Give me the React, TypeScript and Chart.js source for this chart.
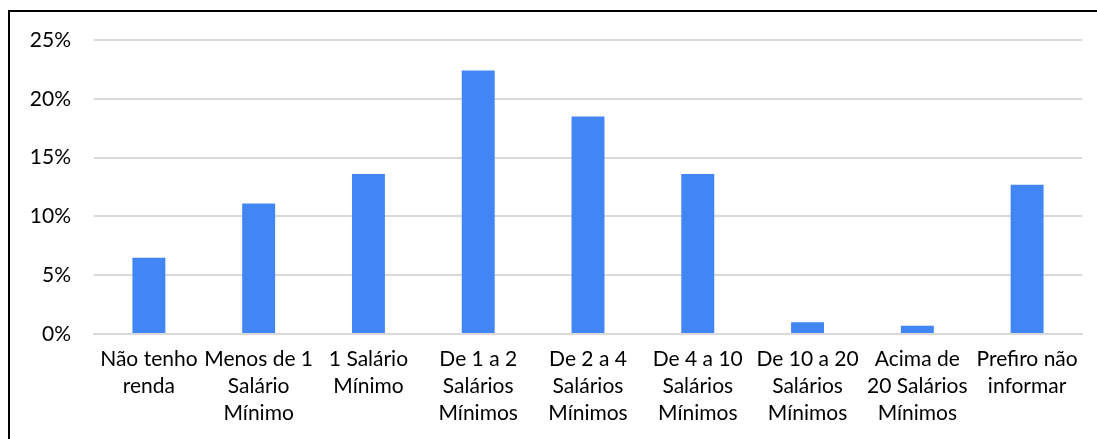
import React, { useEffect, useRef } from "react";
import { Chart, registerables } from "chart.js";

Chart.register(...registerables);

const categories: string[][] = [
  ["Não tenho", "renda"],
  ["Menos de 1", "Salário", "Mínimo"],
  ["1 Salário", "Mínimo"],
  ["De 1 a 2", "Salários", "Mínimos"],
  ["De 2 a 4", "Salários", "Mínimos"],
  ["De 4 a 10", "Salários", "Mínimos"],
  ["De 10 a 20", "Salários", "Mínimos"],
  ["Acima de", "20 Salários", "Mínimos"],
  ["Prefiro não", "informar"],
];

const values: number[] = [6.5, 11.1, 13.6, 22.4, 18.5, 13.6, 1.0, 0.7, 12.7];

const yTicks: number[] = [0, 5, 10, 15, 20, 25];

export default function App() {
  const ref = useRef<HTMLCanvasElement | null>(null);

  useEffect(() => {
    if (!ref.current) return;
    const font = { family: "Lato, 'Noto Sans', sans-serif", size: 21 };
    const chart = new Chart(ref.current, {
      type: "bar",
      data: {
        labels: categories,
        datasets: [
          {
            data: values,
            backgroundColor: "#4285F4",
            barPercentage: 0.3,
            categoryPercentage: 1,
          },
        ],
      },
      options: {
        animation: false,
        responsive: false,
        maintainAspectRatio: false,
        layout: { autoPadding: false, padding: { left: 20, right: 15, top: 28, bottom: 9 } },
        plugins: { legend: { display: false }, tooltip: { enabled: false } },
        scales: {
          x: {
            grid: { display: false },
            border: { color: "#d9d9d9", width: 2 },
            afterFit: (s: any) => {
              s.paddingLeft = 0;
              s.paddingRight = 0;
            },
            ticks: {
              color: "#000",
              font: { ...font, lineHeight: 1.3 },
              padding: 3,
              maxRotation: 0,
              autoSkip: false,
            },
          },
          y: {
            min: 0,
            max: 25,
            afterBuildTicks: (axis: any) => {
              axis.ticks = yTicks.map((v) => ({ value: v }));
            },
            afterFit: (s: any) => {
              s.width = 64;
              s.paddingTop = 0;
            },
            grid: { color: "#d9d9d9", lineWidth: 2, drawTicks: false },
            border: { display: false },
            ticks: {
              color: "#000",
              font,
              padding: 23,
              callback: (v: any) => v + "%",
            },
          },
        },
      },
    });
    return () => chart.destroy();
  }, []);

  return (
    <div
      style={{
        position: "fixed",
        left: 8,
        top: 10,
        width: 1087,
        height: 427,
        borderTop: "2px solid #000",
        borderLeft: "2px solid #000",
        overflow: "hidden",
        background: "#fff",
      }}
    >
      <canvas ref={ref} width={1087} height={427} style={{ display: "block" }} />
    </div>
  );
}
